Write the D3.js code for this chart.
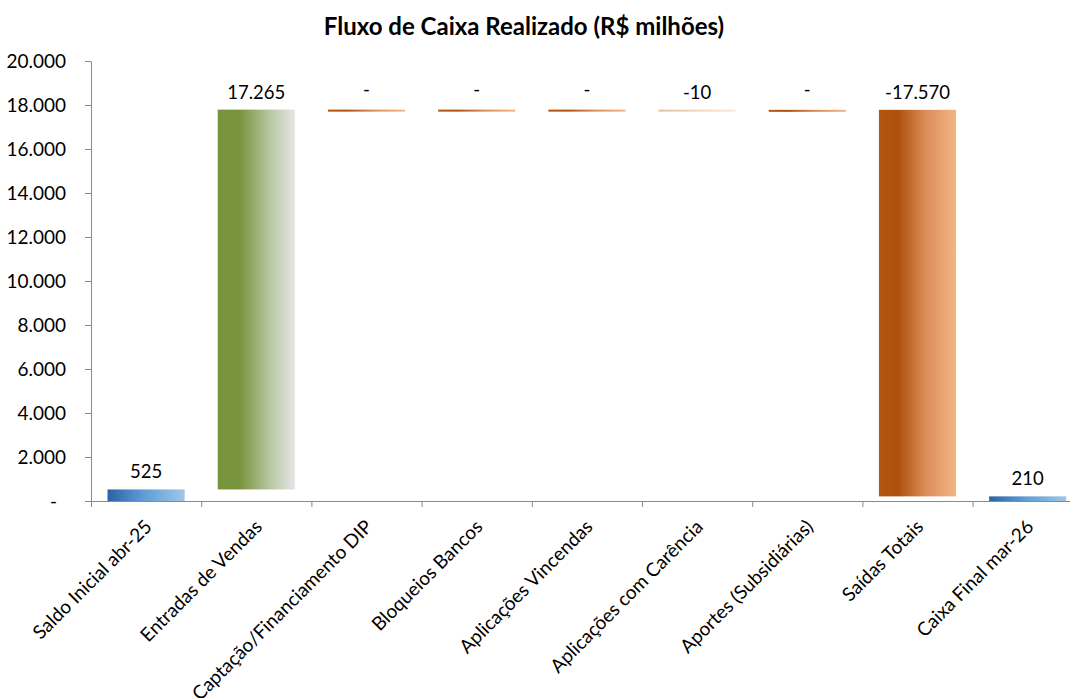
<!DOCTYPE html>
<html>
<head>
<meta charset="utf-8">
<script src="https://cdn.jsdelivr.net/npm/d3@7"></script>
<style>
  body { margin: 0; background: #fff; }
  text { font-family: Lato, "Open Sans", sans-serif; fill: #000; }
</style>
</head>
<body>
<div class="canvas"></div>
<script>
// categorias e valores (R$ milhões)
const categories = [
  "Saldo Inicial abr-25",
  "Entradas de Vendas",
  "Captação/Financiamento DIP",
  "Bloqueios Bancos",
  "Aplicações Vincendas",
  "Aplicações com Carência",
  "Aportes (Subsidiárias)",
  "Saídas Totais",
  "Caixa Final mar-26"
];
const values = [525, 17265, 0, 0, 0, -10, 0, -17570, 210];
const isTotal = [true, false, false, false, false, false, false, false, true];
const yTicks = [0, 2000, 4000, 6000, 8000, 10000, 12000, 14000, 16000, 18000, 20000];

const w = 1070;
const h = 698;
const plotLeft = 91, plotTop = 61, plotBottom = 501;
const step = 110.2;

const locale = d3.formatLocale({ decimal: ",", thousands: ".", grouping: [3], currency: ["R$", ""], minus: "-" });
const fmt = locale.format(",d");

const svg = d3.select(".canvas").append("svg").attr("width", w).attr("height", h);

// waterfall
let running = 0;
const bars = values.map((v, i) => {
  let y0, y1;
  if (isTotal[i]) { y0 = 0; y1 = v; running = v; }
  else { y0 = running; y1 = running + v; running = y1; }
  return { name: categories[i], value: v, total: isTotal[i], y0, y1, i };
});

const x = d3.scaleBand(categories, [plotLeft, plotLeft + step * categories.length]).paddingInner(0.3).paddingOuter(0.15);
const xEdge = d3.scaleLinear([0, categories.length], [plotLeft, plotLeft + step * categories.length]);
const y = d3.scaleLinear([0, 20000], [plotBottom, plotTop]);

// gradients
const defs = svg.append("defs");
const grad = (id, stops) => {
  const g = defs.append("linearGradient").attr("id", id).attr("x1", "0%").attr("x2", "100%").attr("y1", "0%").attr("y2", "0%");
  stops.forEach(s => g.append("stop").attr("offset", s[0]).attr("stop-color", s[1]));
};
grad("gBlue", [["0%", "#2a63a3"], ["45%", "#5d9bd5"], ["100%", "#a0c6e8"]]);
grad("gGreen", [["0%", "#77933c"], ["28%", "#77933c"], ["65%", "#b3c49a"], ["100%", "#e6e6e6"]]);
grad("gOrange", [["0%", "#b3560f"], ["25%", "#ad500e"], ["60%", "#dc8c57"], ["100%", "#f4b586"]]);
grad("gPale", [["0%", "#e2c09e"], ["100%", "#fde8d6"]]);

const fillFor = d => d.total ? "url(#gBlue)"
  : d.value > 0 ? "url(#gGreen)"
  : (d.value < 0 && Math.abs(d.value) < 100) ? "url(#gPale)" : "url(#gOrange)";

svg.append("g")
  .selectAll("rect")
  .data(bars)
  .join("rect")
  .attr("x", d => x(d.name))
  .attr("width", x.bandwidth())
  .attr("y", d => y(Math.max(d.y0, d.y1)))
  .attr("height", d => Math.max(2, Math.abs(y(d.y0) - y(d.y1))))
  .attr("fill", fillFor);

// rótulos
svg.append("g")
  .selectAll("text")
  .data(bars)
  .join("text")
  .attr("x", d => x(d.name) + x.bandwidth() / 2)
  .attr("y", d => y(Math.max(d.y0, d.y1)) - (d.value === 0 ? 14 : 11))
  .attr("text-anchor", "middle")
  .attr("font-size", 18.5)
  .text(d => d.value === 0 ? "-" : fmt(d.value));

// eixo y
const yAxis = svg.append("g")
  .attr("transform", `translate(${plotLeft},0)`)
  .call(d3.axisLeft(y).tickValues(yTicks).tickSize(6).tickSizeOuter(0).tickPadding(19)
    .tickFormat(v => v === 0 ? "-" : fmt(v)));
yAxis.selectAll("text").attr("font-size", 19).attr("font-family", "Lato, sans-serif")
  .attr("dx", v => v === 0 ? -9 : 0);

// eixo x (marcas nas bordas das categorias)
const xAxis = svg.append("g")
  .attr("transform", `translate(0,${plotBottom})`)
  .call(d3.axisBottom(xEdge).tickValues(d3.range(0, categories.length + 1)).tickSize(6).tickSizeOuter(0).tickFormat(""));

svg.selectAll(".domain, .tick line").attr("stroke", "#8a8a8a");

const xLabels = svg.append("g")
  .attr("transform", `translate(0,${plotBottom})`)
  .call(d3.axisBottom(x).tickSize(0).tickPadding(0));
xLabels.select(".domain").remove();
xLabels.selectAll("text")
  .attr("font-size", 19)
  .attr("font-family", "Lato, sans-serif")
  .attr("text-anchor", "end")
  .attr("dy", 0)
  .attr("y", 0)
  .attr("transform", "translate(7,27) rotate(-45)");

// título
svg.append("text")
  .attr("x", 524)
  .attr("y", 35)
  .attr("text-anchor", "middle")
  .attr("font-size", 24)
  .attr("font-weight", "bold")
  .text("Fluxo de Caixa Realizado (R$ milhões)");
</script>
</body>
</html>
